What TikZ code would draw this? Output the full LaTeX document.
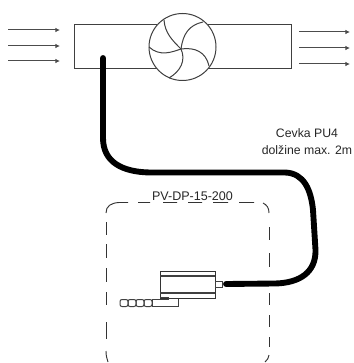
\documentclass[tikz,border=0pt]{standalone}
\usepackage{fontspec}
\setmainfont{Liberation Sans}
\usetikzlibrary{arrows.meta}
\tikzset{
 thin line/.style={draw=black!75,line width=0.75pt},
 flow/.style={draw=black!70,line width=0.75pt,-{Latex[length=3.5pt,width=3.5pt]}},
 dash line/.style={draw=black!80,line width=0.7pt},
 label/.style={align=center,text=black!85,inner sep=0pt}
}
\begin{document}
\begin{tikzpicture}[x=0.75pt,y=-0.75pt]
\useasboundingbox (0,0) rectangle (353,363);
% duct
\draw[thin line] (157,25) -- (74,25) -- (74,69) -- (157,69);
\draw[thin line] (207,25) -- (291,25) -- (291,69) -- (207,69);
\coordinate (c) at (182.5,47);
\coordinate (hub) at (181,49);
\draw[thin line,fill=white] (c) circle (33.5);
\draw[thin line] (hub) .. controls (172,40) and (165,33) .. (164,20);
\draw[thin line] (hub) .. controls (183,34) and (189,25) .. (203,22);
\draw[thin line] (hub) .. controls (195,47) and (206,52) .. (209,66);
\draw[thin line] (hub) .. controls (186,60) and (181,71) .. (169,78);
\draw[thin line] (hub) .. controls (172,52) and (160,57) .. (149,47);
% arrows
\foreach \y in {30,46,61} \draw[flow] (8,\y) -- (60,\y);
\foreach \y in {32,48,64} \draw[flow] (299,\y) -- (350,\y);
% tube
\coordinate (tubeA) at (103,58);
\coordinate (tubeB) at (226,284);
\draw[line width=4.4pt,line cap=round,black] (tubeA) -- (103,138)
 .. controls (103,162) and (122,172) .. (150,172.5)
 -- (285,172.5)
 .. controls (304,173) and (311,190) .. (313,210)
 -- (315.5,250)
 .. controls (316,272) and (300,283) .. (275,283.5)
 -- (tubeB);
% dashed module
\draw[dash line] (128,202.5) -- (119,202.5) .. controls (111,203) and (106,206) .. (106,213)
 (138,202.5) -- (150,202.5) (163,202.5) -- (177,202.5) (188,202.5) -- (202,202.5)
 (213,202.5) -- (228,202.5) (239,202.5) -- (254,202.5);
\draw[dash line] (263,203) .. controls (267,205) and (269,208) .. (269,213);
\foreach \a/\b in {222/235,244/258,268/282,292/305,322/339} \draw[dash line] (106,\a) -- (106,\b);
\draw[dash line] (106,351) .. controls (106,356) and (107,359) .. (108,362);
\foreach \a/\b in {227/240,253/267,293/305,315/327,337/347} \draw[dash line] (269,\a) -- (269,\b);
\draw[dash line] (269,355) .. controls (269,358) and (267,360) .. (265,362);
\node[label,font=\fontsize{9.4pt}{11pt}\selectfont] (pv) at (192.5,196) {PV-DP-15-200};
% device
\node[draw=black!80,line width=0.75pt,minimum width=41.25pt,minimum height=20.25pt,inner sep=0pt] (dev) at (187.5,284.5) {};
\draw[thin line,line width=1pt] (160,276) -- (215,276) (160,293) -- (215,293);
\draw[thin line,fill=white] (215,281) rectangle (222,287);
\draw[thin line] (160,297.5) -- (168,297.5) -- (168,299.5) -- (152,299.5) (178,298.5) -- (178,306.5) -- (152,306.5) (152,299.5) -- (152,306.5);
\foreach \a/\b in {120/128,128/136,136/144,144/152}
  \draw[thin line,rounded corners=1.5pt] (\a,299.5) rectangle (\b,306.5);
% label
\node[label,font=\fontsize{9.2pt}{12.6pt}\selectfont] (cevka) at (307,141.5) {Cevka PU4\\dolžine max. 2m};
\end{tikzpicture}
\end{document}
